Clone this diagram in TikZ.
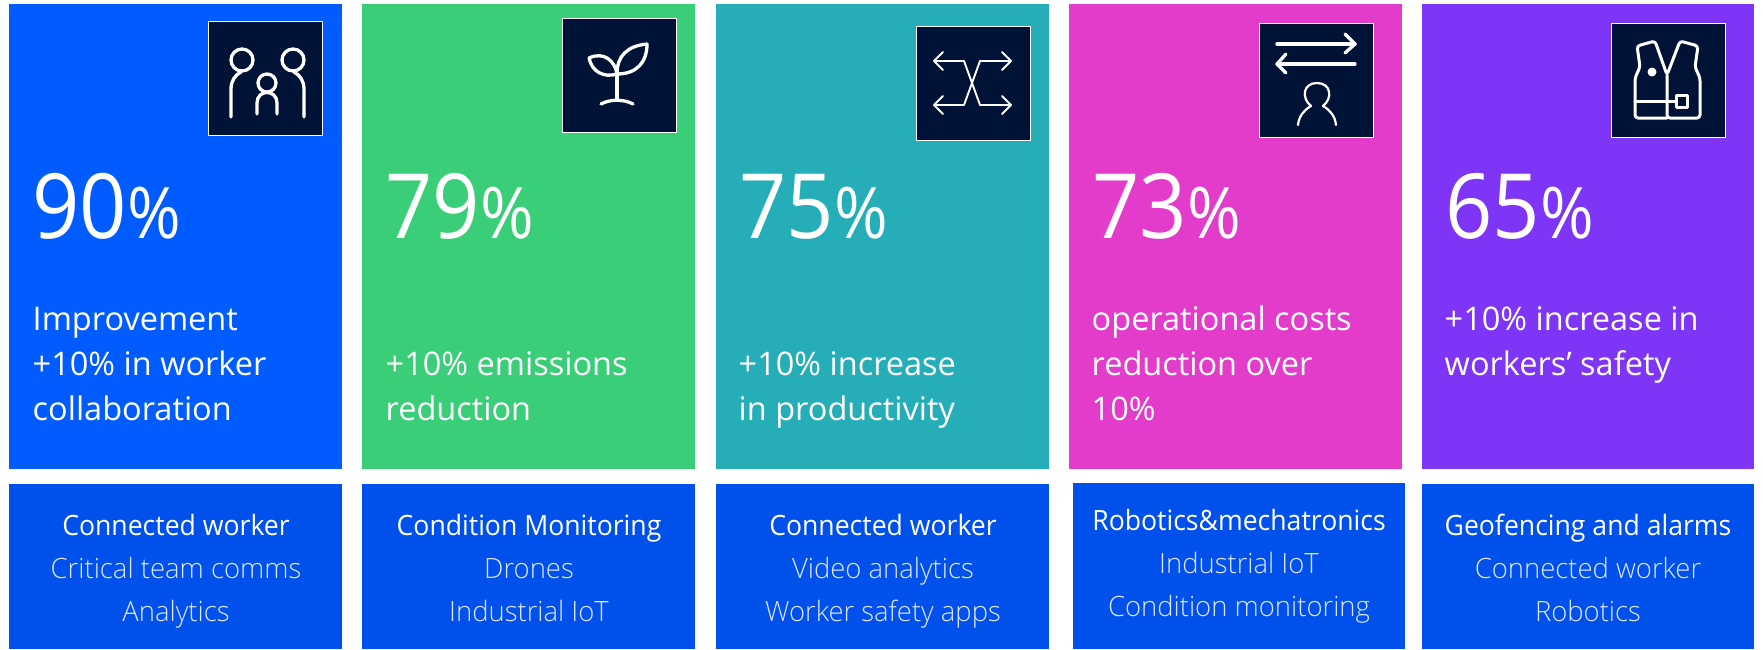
\documentclass[tikz,border=0pt]{standalone}
\usepackage{fontspec}
\setmainfont{Open Sans}
\newfontfamily\lightf[FakeStretch=0.98]{Open Sans Light}
\newfontfamily\regf[FakeStretch=0.95]{Open Sans}
\newfontfamily\descf{Open Sans}
\newfontfamily\numf[FakeStretch=0.92]{Open Sans}
\definecolor{cA}{HTML}{005CFF}
\definecolor{cB}{HTML}{3ACE78}
\definecolor{cC}{HTML}{25AEB8}
\definecolor{cD}{HTML}{E33CCB}
\definecolor{cE}{HTML}{7F35F5}
\definecolor{cBot}{HTML}{0050EC}
\definecolor{cIcon}{HTML}{001236}
\definecolor{cSub}{HTML}{DCE6FF}
\newcommand{\bigpct}[1]{{\numf\fontsize{90}{90}\selectfont #1\hspace{1pt}\fontsize{71}{71}\selectfont\%}}
\newcommand{\firstline}{\rule{0pt}{30pt}}
\newcommand{\firstbot}{\rule{0pt}{28pt}}
\newcommand{\bothead}[1]{{\regf\color{white}#1}}
\tikzset{
  iconbox/.style={anchor=north west,inner sep=0pt,outer sep=0pt,minimum width=114pt,minimum height=114pt,fill=cIcon,draw=white,line width=0.8pt},
  pct/.style={anchor=base west,inner sep=0pt,text=white},
  desc/.style={anchor=north west,inner sep=0pt,text=white,align=left,font=\descf\fontsize{32.5}{45}\selectfont},
  bot/.style={anchor=north,inner sep=0pt,text=cSub,align=center,font=\lightf\fontsize{28}{43}\selectfont},
  ic/.style={draw=white,line width=3.3pt,line cap=round,line join=round},
  icthin/.style={draw=white,line width=1.9pt,line cap=round,line join=round}
}
\begin{document}
\begin{tikzpicture}[x=1pt,y=-1pt]
\useasboundingbox (0,0) rectangle (1763,649);
% cards
\fill[cA] (9,4) rectangle (342,469);
\fill[cB] (362,4) rectangle (695,469);
\fill[cC] (716,4) rectangle (1049,469);
\fill[cD] (1069,4) rectangle (1402,469);
\fill[cE] (1422,4) rectangle (1754,469);
\fill[cBot] (9,484) rectangle (342,649);
\fill[cBot] (362,484) rectangle (695,649);
\fill[cBot] (716,484) rectangle (1049,649);
\fill[cBot] (1073,483) rectangle (1405,649);
\fill[cBot] (1422,484) rectangle (1754,649);
% icon boxes
\node[iconbox] (iA) at (208,21) {};
\node[iconbox] (iB) at (562,18) {};
\node[iconbox] (iC) at (916,26) {};
\node[iconbox] (iD) at (1259,23) {};
\node[iconbox] (iE) at (1611,23) {};
% icon A
\begin{scope}[shift={(208,21)},ic]
\draw (34,39) circle (11);
\draw (85,39) circle (11);
\draw (59,62) circle (9);
\draw (23,96) -- (23,68) .. controls (23,60) and (27,54) .. (33,51);
\draw (96,96) -- (96,68) .. controls (96,60) and (92,54) .. (86,51);
\draw (49,93) -- (49,82) .. controls (49,68) and (69,68) .. (69,82) -- (69,93);
\end{scope}
% icon B
\begin{scope}[shift={(562,18)},ic]
\draw (55,50) -- (55,82);
\draw (39,86) .. controls (48,81) and (62,81) .. (71,86);
\draw (55,56) .. controls (55,38) and (65,28) .. (85,26) .. controls (85,44) and (75,56) .. (55,56);
\draw (27,40) .. controls (42,33) and (53,43) .. (55,56) .. controls (42,60) and (30,54) .. (27,40);
\end{scope}
% icon C
\begin{scope}[shift={(916,26)},icthin]
\draw (18,35) -- (48,35) -- (64,79) -- (95,79);
\draw (95,35) -- (64,35) -- (48,79) -- (18,79);
\draw (27,26) -- (18,35) -- (27,44);
\draw (86,26) -- (95,35) -- (86,44);
\draw (27,70) -- (18,79) -- (27,88);
\draw (86,70) -- (95,79) -- (86,88);
\end{scope}
% icon D
\begin{scope}[shift={(1259,23)},ic]
\draw (18,21) -- (96,21);
\draw (86,11) -- (96,21) -- (86,30);
\draw (96,41) -- (18,41);
\draw (27,31) -- (18,41) -- (27,50);
\draw[line width=2.2pt] (39,102) .. controls (40,93) and (45,87) .. (52,83) .. controls (42,75) and (44,60) .. (58,60) .. controls (72,60) and (74,75) .. (64,83) .. controls (71,87) and (76,93) .. (77,102);
\end{scope}
% icon E
\begin{scope}[shift={(1611,23)},ic,line width=3pt]
\draw[rounded corners=3pt] (56,95) -- (24,95) -- (24,55) -- (29,44) -- (26,23) -- (44,18) -- (56,52) -- (69,18) -- (87,23) -- (84,44) -- (89,55) -- (89,95) -- (56,95) -- (56,52);
\draw (24,78) -- (65,78);
\draw (65,72) rectangle (76,84);
\fill[white,draw=none] (41,49) circle (4.5);
\end{scope}
% percentages
\node[pct] (pA) at (32,238) {\bigpct{90}};
\node[pct] (pB) at (385,238) {\bigpct{79}};
\node[pct] (pC) at (739,238) {\bigpct{75}};
\node[pct] (pD) at (1092,238) {\bigpct{73}};
\node[pct] (pE) at (1445,238) {\bigpct{65}};
% descriptions
\node[desc] (dA) at (32.5,300) {\firstline Improvement\\+10\% in worker\\collaboration};
\node[desc] (dB) at (385.5,345) {\firstline +10\% emissions\\reduction};
\node[desc] (dC) at (738.5,345) {\firstline +10\% increase\\in productivity};
\node[desc] (dD) at (1091.5,300) {\firstline operational costs\\reduction over\\10\%};
\node[desc] (dE) at (1444.5,300) {\firstline +10\% increase in\\workers’ safety};
% bottom boxes
\node[bot] (bA) at (176,507) {\firstbot\bothead{Connected worker}\\Critical team comms\\Analytics};
\node[bot] (bB) at (529,507) {\firstbot\bothead{Condition Monitoring}\\Drones\\Industrial IoT};
\node[bot] (bC) at (883,507) {\firstbot\bothead{Connected worker}\\Video analytics\\Worker safety apps};
\node[bot] (bD) at (1239,502) {\firstbot\bothead{Robotics\&mechatronics}\\Industrial IoT\\Condition monitoring};
\node[bot] (bE) at (1588,507) {\firstbot\bothead{Geofencing and alarms}\\Connected worker\\Robotics};
\end{tikzpicture}
\end{document}
